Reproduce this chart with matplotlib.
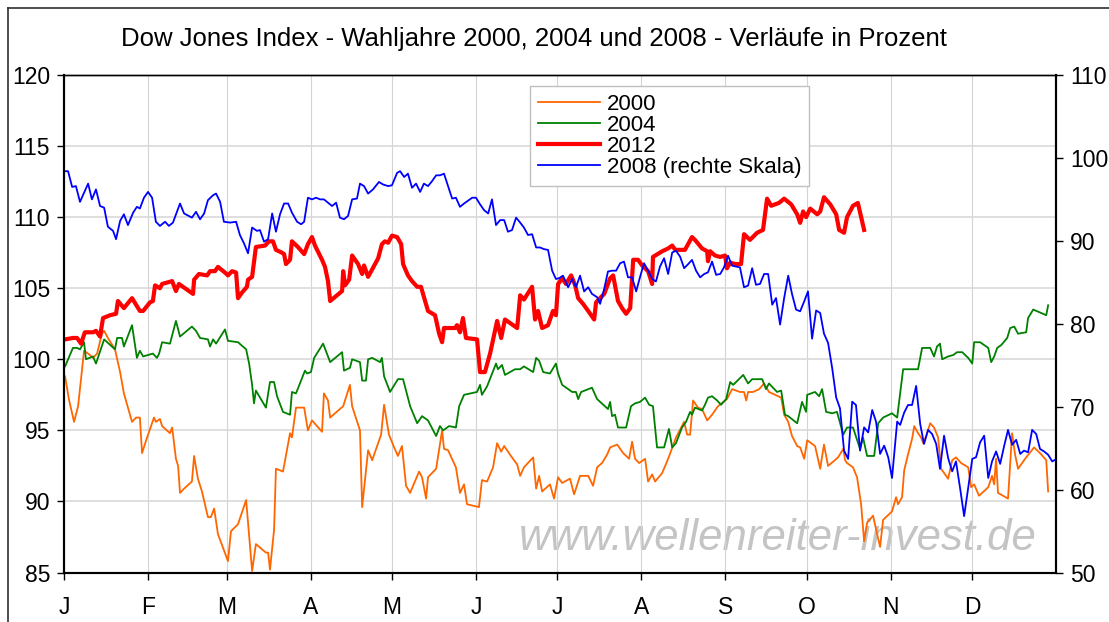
import matplotlib
matplotlib.use("Agg")
import matplotlib.pyplot as plt
from matplotlib.lines import Line2D

plt.rcParams['font.family'] = ['Liberation Sans', 'DejaVu Sans']

title = "Dow Jones Index - Wahljahre 2000, 2004 und 2008 - Verläufe in Prozent"
watermark = "www.wellenreiter-invest.de"

# month starts (day of year) and labels
month_starts = [0, 31, 60, 91, 121, 152, 182, 213, 244, 274, 305, 335]
month_labels = ["J", "F", "M", "A", "M", "J", "J", "A", "S", "O", "N", "D"]

left_ticks = [85, 90, 95, 100, 105, 110, 115, 120]
right_ticks = [50, 60, 70, 80, 90, 100, 110]

# (day of year, index in percent)
dow_2000 = [
    (0.4, 98.8), (1.8, 97.2), (3.7, 95.6), (5.2, 96.7), (7.4, 100.6), (8.9, 100.4), (10.7, 100.1),
    (12.2, 100.4), (14.0, 101.8), (14.8, 102.0), (16.2, 101.5), (18.8, 100.7), (20.7, 99.1),
    (22.1, 97.6), (25.1, 95.6), (26.6, 95.9), (28.0, 95.9), (28.8, 93.4), (30.3, 94.3), (33.2, 95.9),
    (33.9, 95.6), (35.4, 95.8), (36.2, 95.3), (39.1, 94.8), (39.9, 95.2), (41.3, 93.0), (42.1, 92.5),
    (42.8, 90.6), (44.3, 90.9), (47.2, 91.4), (48.0, 93.2), (49.4, 91.6), (50.9, 90.7), (53.1, 88.9),
    (54.2, 88.9), (55.4, 89.5), (56.8, 87.7), (60.5, 85.8), (61.6, 87.9), (64.2, 88.4), (67.2, 90.1),
    (69.4, 85.1), (70.8, 87.0), (74.5, 86.4), (75.3, 86.4), (76.0, 85.2), (77.5, 88.0), (78.2, 92.3),
    (80.8, 92.1), (83.4, 94.8), (84.1, 94.5), (85.6, 96.6), (88.6, 96.6), (90.0, 95.0), (91.5, 95.7),
    (95.2, 94.9), (95.9, 97.6), (97.4, 97.1), (98.2, 95.9), (103.0, 96.7), (105.5, 98.2), (106.3, 96.7),
    (109.2, 95.0), (110.0, 89.6), (112.2, 93.6), (113.7, 92.9), (117.0, 94.7), (118.1, 96.8),
    (119.9, 94.7), (121.8, 93.8), (123.2, 93.2), (124.7, 93.9), (126.2, 91.1), (127.7, 90.6),
    (131.0, 92.1), (132.1, 91.7), (133.6, 90.2), (134.3, 91.7), (137.3, 92.3), (139.5, 95.0),
    (140.2, 93.7), (141.7, 93.6), (144.6, 92.4), (146.1, 90.6), (147.6, 91.2), (148.7, 89.8),
    (153.1, 89.6), (154.2, 91.5), (156.1, 91.4), (158.3, 92.4), (159.8, 94.1), (161.3, 93.5),
    (162.4, 93.9), (164.9, 93.2), (167.2, 92.6), (168.3, 91.8), (169.7, 92.4), (173.1, 93.1),
    (174.2, 90.9), (175.3, 91.8), (176.4, 90.7), (179.3, 91.2), (180.8, 90.2), (182.3, 91.7),
    (183.8, 91.3), (186.7, 91.6), (188.2, 90.5), (190.4, 91.8), (193.4, 91.8), (195.2, 91.1),
    (196.7, 92.4), (198.5, 92.7), (200.4, 93.3), (201.5, 93.8), (204.1, 94.0), (206.3, 93.4),
    (208.5, 93.0), (209.6, 94.2), (210.7, 93.0), (212.2, 92.7), (214.4, 93.0), (215.5, 91.4),
    (217.0, 91.9), (218.1, 91.4), (220.7, 92.0), (222.9, 93.0), (225.8, 94.5), (228.8, 95.6),
    (229.9, 94.7), (231.0, 94.7), (232.1, 97.1), (233.9, 96.6), (235.4, 96.5), (237.3, 95.7),
    (239.1, 96.1), (241.3, 96.7), (244.6, 97.2), (246.5, 97.9), (249.4, 97.7), (250.9, 97.7),
    (251.7, 97.1), (252.4, 97.7), (254.2, 97.7), (256.5, 97.9), (258.3, 98.3), (260.1, 97.7),
    (262.4, 97.5), (264.6, 97.3), (265.7, 96.1), (267.2, 95.6), (268.6, 94.6), (270.5, 93.9),
    (271.6, 93.8), (273.1, 93.0), (274.2, 94.3), (277.1, 93.9), (279.0, 92.3), (280.4, 94.0),
    (281.9, 92.5), (283.8, 92.8), (285.6, 93.1), (287.5, 93.7), (288.2, 92.9), (288.9, 92.7),
    (291.1, 92.4), (292.6, 91.7), (294.1, 89.8), (295.2, 87.2), (296.3, 88.5), (298.5, 89.0),
    (300.0, 87.7), (301.1, 86.8), (302.2, 88.7), (305.5, 89.3), (307.0, 90.3), (307.7, 89.8),
    (309.2, 90.3), (310.0, 92.2), (311.4, 93.3), (312.9, 94.4), (313.7, 95.3), (315.1, 94.8),
    (316.2, 94.5), (317.0, 94.1), (318.1, 94.6), (319.6, 95.5), (321.0, 95.2), (322.5, 94.5),
    (323.6, 92.3), (326.2, 91.6), (327.7, 92.9), (329.1, 93.1), (331.0, 92.7), (333.6, 92.4),
    (334.7, 91.0), (335.8, 91.2), (337.6, 90.4), (341.0, 91.0), (342.4, 91.8), (343.2, 91.2),
    (343.9, 93.0), (344.6, 90.6), (348.3, 90.2), (349.8, 94.8), (350.9, 93.3), (352.0, 92.3),
    (354.6, 93.0), (357.9, 93.8), (360.1, 93.4), (362.4, 92.9), (363.1, 90.7),
]

dow_2004 = [
    (0.4, 99.5), (3.3, 100.8), (4.8, 100.8), (5.9, 100.7), (7.4, 101.2), (8.1, 100.0), (10.7, 100.2),
    (11.8, 99.7), (14.8, 101.4), (18.8, 100.7), (19.6, 101.5), (21.4, 101.5), (22.1, 100.9),
    (25.1, 102.4), (26.9, 100.1), (28.0, 100.6), (29.2, 100.2), (32.8, 100.4), (34.3, 100.1),
    (35.1, 100.4), (36.2, 101.2), (39.1, 101.1), (41.3, 102.7), (42.8, 101.6), (47.2, 102.3),
    (48.7, 102.0), (50.2, 101.5), (53.1, 101.4), (53.9, 100.9), (55.0, 101.4), (56.1, 101.1),
    (59.4, 102.1), (60.5, 101.3), (64.2, 101.2), (67.2, 100.7), (68.3, 99.7), (69.4, 98.2),
    (70.1, 96.9), (70.8, 97.8), (74.5, 96.6), (76.0, 98.4), (77.5, 98.4), (78.6, 97.4), (80.8, 96.3),
    (83.4, 96.1), (84.1, 97.7), (85.6, 97.6), (88.9, 99.2), (89.7, 99.0), (91.1, 99.1), (92.3, 100.1),
    (95.6, 101.1), (98.2, 99.8), (102.6, 100.5), (103.3, 99.2), (105.5, 99.4), (106.3, 100.0),
    (109.2, 99.8), (110.0, 98.5), (111.4, 98.5), (112.2, 100.0), (113.7, 100.1), (116.6, 99.8),
    (117.3, 100.1), (118.1, 98.8), (120.3, 97.7), (123.2, 98.6), (125.1, 98.6), (127.7, 96.7),
    (130.3, 95.5), (132.1, 96.0), (134.3, 95.7), (137.3, 94.6), (138.7, 95.3), (139.9, 95.0),
    (142.1, 95.3), (144.6, 95.2), (145.8, 96.7), (147.6, 97.5), (152.4, 97.7), (153.5, 98.2),
    (154.2, 97.5), (156.1, 98.1), (159.4, 99.7), (160.1, 99.3), (161.6, 99.6), (162.7, 98.9),
    (166.4, 99.3), (168.3, 99.3), (169.7, 99.5), (173.1, 99.1), (174.2, 100.1), (175.3, 99.9),
    (176.8, 99.1), (179.3, 99.0), (181.5, 99.7), (182.3, 99.0), (183.8, 98.2), (187.5, 97.7),
    (188.9, 97.7), (189.7, 97.2), (190.8, 97.7), (194.8, 98.0), (196.7, 97.2), (200.7, 96.5),
    (201.5, 97.0), (202.2, 96.0), (203.3, 96.1), (204.4, 95.2), (207.4, 95.2), (209.2, 96.7),
    (210.7, 96.9), (212.5, 97.0), (214.4, 97.3), (215.9, 96.8), (217.3, 96.7), (218.8, 93.8),
    (221.4, 93.8), (223.2, 95.1), (224.4, 93.8), (225.8, 94.1), (228.0, 95.2), (229.5, 95.6),
    (231.0, 96.3), (231.7, 96.1), (232.8, 96.6), (235.4, 96.4), (236.5, 96.8), (237.6, 97.3),
    (239.1, 97.4), (241.0, 97.1), (242.4, 96.8), (244.3, 97.2), (245.8, 98.4), (246.9, 98.2),
    (250.6, 98.9), (252.4, 98.3), (253.9, 98.6), (257.6, 98.6), (259.0, 97.9), (260.1, 98.3),
    (263.1, 97.7), (264.6, 97.8), (266.0, 96.1), (267.2, 96.0), (270.5, 95.5), (272.3, 97.0),
    (273.8, 96.3), (274.2, 97.5), (277.1, 97.7), (278.6, 97.4), (279.7, 97.9), (281.2, 96.3),
    (283.4, 96.2), (285.2, 96.3), (287.5, 94.7), (288.9, 95.2), (291.1, 95.2), (293.7, 93.7),
    (294.8, 94.5), (296.3, 93.2), (298.9, 93.2), (300.4, 95.5), (302.2, 95.9), (305.5, 96.2),
    (307.4, 95.9), (309.6, 99.3), (315.1, 99.3), (316.6, 100.8), (319.6, 100.8), (321.0, 100.2),
    (322.1, 100.9), (323.2, 101.1), (324.0, 100.0), (326.2, 100.2), (328.1, 100.3), (329.5, 100.5),
    (331.4, 100.5), (333.6, 100.1), (335.1, 99.7), (335.8, 101.2), (338.0, 101.2), (341.0, 100.8),
    (342.1, 99.8), (343.2, 100.2), (344.3, 100.8), (345.8, 101.0), (348.0, 101.5), (349.1, 102.2),
    (350.6, 102.3), (352.0, 101.8), (355.0, 101.9), (355.7, 102.9), (357.6, 103.5), (362.4, 103.1),
    (363.1, 103.8),
]

dow_2012 = [
    (0.4, 101.4), (3.3, 101.5), (4.8, 101.5), (6.3, 101.1), (7.7, 101.9), (9.6, 101.9), (10.7, 101.9),
    (11.8, 102.0), (13.3, 101.6), (14.4, 102.9), (17.0, 103.1), (19.2, 103.2), (19.9, 104.1),
    (22.1, 103.6), (25.1, 104.3), (28.0, 103.4), (29.2, 103.4), (31.7, 104.0), (32.8, 104.1),
    (33.6, 105.2), (35.4, 105.0), (36.2, 105.3), (39.9, 105.5), (41.3, 104.8), (42.4, 105.3),
    (44.6, 105.0), (47.6, 104.6), (48.0, 105.6), (49.8, 106.0), (52.8, 105.9), (53.9, 106.2),
    (55.7, 106.2), (56.8, 106.5), (59.4, 106.1), (60.5, 105.9), (62.0, 106.2), (63.5, 106.1),
    (64.2, 104.3), (65.7, 104.7), (67.5, 105.1), (67.9, 105.6), (69.4, 105.8), (70.8, 107.9),
    (74.2, 108.0), (75.6, 108.3), (77.1, 108.3), (78.2, 107.7), (80.4, 107.5), (81.2, 107.4),
    (81.9, 106.7), (83.4, 107.0), (84.1, 108.3), (86.3, 107.9), (88.6, 107.4), (90.0, 108.1),
    (91.5, 108.6), (92.6, 108.0), (95.2, 107.0), (96.3, 106.5), (97.4, 105.5), (98.2, 104.1),
    (102.6, 104.8), (103.0, 106.2), (103.7, 105.2), (105.2, 105.6), (106.3, 107.3), (108.5, 106.7),
    (110.0, 106.0), (110.7, 106.6), (112.2, 105.8), (115.9, 107.1), (117.3, 108.1), (118.4, 108.3),
    (119.6, 108.2), (121.0, 108.7), (122.9, 108.6), (124.4, 108.1), (125.1, 106.7), (126.9, 105.9),
    (128.4, 105.5), (130.3, 105.1), (131.7, 105.1), (134.3, 103.4), (136.9, 103.1), (138.4, 101.8),
    (139.5, 101.2), (140.2, 102.2), (144.3, 102.2), (145.0, 102.4), (146.1, 101.9), (147.2, 102.9),
    (148.3, 101.5), (152.4, 101.4), (153.5, 99.1), (155.3, 99.1), (157.2, 100.4), (159.8, 102.7),
    (161.3, 101.5), (162.7, 102.8), (167.2, 102.2), (168.3, 104.5), (169.7, 104.2), (172.7, 105.1),
    (173.8, 102.8), (174.9, 103.4), (176.4, 102.2), (178.6, 102.4), (180.4, 103.4), (181.5, 103.1),
    (182.3, 105.3), (183.8, 105.7), (185.2, 105.3), (187.1, 105.9), (188.6, 105.2), (189.7, 104.3),
    (191.5, 103.9), (193.4, 103.4), (195.6, 102.8), (196.3, 104.0), (199.3, 104.6), (201.5, 105.7),
    (202.6, 105.9), (204.4, 104.1), (205.9, 103.6), (207.4, 103.2), (208.9, 103.6), (210.0, 107.0),
    (211.8, 107.0), (213.3, 106.6), (215.5, 106.2), (217.0, 105.3), (217.3, 107.2), (220.7, 107.6),
    (222.9, 107.8), (224.4, 108.0), (225.5, 107.7), (229.1, 107.7), (231.7, 108.6), (232.8, 108.4),
    (235.4, 107.8), (237.3, 107.6), (237.6, 106.9), (238.4, 107.6), (240.2, 107.3), (242.1, 107.2),
    (243.9, 107.3), (244.6, 106.4), (245.8, 106.8), (247.6, 106.7), (249.8, 106.7), (250.9, 108.8),
    (253.1, 108.4), (255.7, 108.9), (257.9, 109.1), (259.4, 111.3), (260.9, 110.8), (263.8, 111.0),
    (265.7, 111.3), (268.3, 110.9), (270.5, 110.2), (271.6, 109.6), (272.7, 110.4), (273.8, 110.0),
    (275.3, 110.6), (277.9, 110.2), (279.0, 110.4), (280.4, 111.4), (282.7, 110.9), (284.9, 110.2),
    (286.0, 109.1), (287.8, 108.9), (288.9, 110.0), (291.1, 110.8), (292.9, 111.0), (295.2, 109.1),
]

# 2008 is read against the right axis
dow_2008 = [
    (0.4, 98.4), (1.5, 98.4), (3.0, 96.5), (4.4, 96.6), (5.9, 94.7), (8.9, 96.9), (10.3, 95.0),
    (11.8, 96.2), (13.3, 94.2), (14.8, 94.0), (16.2, 91.7), (18.1, 91.2), (19.2, 90.2), (20.7, 92.4),
    (22.1, 93.2), (23.6, 91.9), (25.5, 93.4), (26.9, 94.1), (28.0, 93.9), (29.5, 95.2), (31.0, 95.9),
    (32.5, 95.2), (33.9, 92.3), (35.4, 91.8), (37.3, 92.3), (38.7, 91.8), (40.2, 92.2), (42.8, 94.5),
    (44.3, 93.3), (47.2, 92.8), (48.7, 93.5), (50.2, 92.6), (51.7, 93.3), (53.1, 94.9), (55.0, 95.5),
    (56.1, 95.7), (57.6, 94.7), (59.0, 92.3), (61.3, 92.2), (63.5, 92.3), (64.9, 90.7), (66.4, 89.7),
    (67.9, 88.5), (69.4, 91.6), (71.2, 91.2), (72.3, 91.3), (73.8, 89.9), (75.3, 90.2), (76.8, 93.3),
    (78.2, 91.1), (79.7, 93.2), (81.2, 94.5), (82.7, 94.5), (84.1, 93.4), (86.0, 92.3), (87.5, 92.0),
    (88.6, 92.3), (90.0, 95.2), (91.5, 95.0), (93.0, 95.2), (94.5, 95.0), (95.9, 95.0), (97.4, 94.6),
    (98.9, 94.2), (100.4, 94.6), (101.8, 92.8), (103.3, 92.6), (104.8, 93.0), (106.3, 95.0),
    (108.1, 95.1), (109.2, 96.9), (110.7, 96.6), (112.2, 95.7), (114.0, 96.2), (116.2, 97.1),
    (117.7, 96.8), (119.6, 96.6), (121.0, 96.7), (122.9, 98.2), (124.0, 98.4), (125.5, 97.7),
    (126.9, 98.1), (128.4, 96.4), (129.9, 96.9), (131.4, 95.9), (132.8, 96.9), (134.3, 96.6),
    (135.8, 97.2), (137.3, 97.9), (138.7, 97.9), (140.2, 98.1), (141.7, 96.6), (143.2, 95.1),
    (144.6, 95.2), (146.1, 94.1), (147.6, 94.5), (150.6, 95.2), (152.0, 95.2), (153.5, 94.4),
    (155.0, 93.7), (156.5, 93.3), (157.9, 95.0), (159.4, 91.9), (160.9, 92.5), (162.4, 92.5),
    (163.8, 91.1), (165.3, 91.3), (166.8, 92.8), (168.3, 92.2), (169.7, 91.6), (171.2, 90.7),
    (172.7, 90.8), (174.2, 89.2), (175.6, 89.2), (177.1, 89.0), (178.6, 88.9), (180.1, 86.4),
    (181.5, 85.4), (182.7, 85.5), (184.1, 85.8), (186.0, 84.4), (187.5, 85.4), (188.9, 84.4),
    (190.4, 85.8), (191.9, 83.9), (193.4, 84.4), (194.8, 83.6), (196.7, 83.2), (197.8, 82.4),
    (199.3, 84.2), (200.7, 86.3), (202.2, 86.4), (203.7, 86.4), (205.2, 87.3), (206.6, 87.5),
    (208.1, 85.6), (209.6, 85.6), (211.1, 83.9), (212.5, 85.6), (214.0, 87.3), (215.5, 86.4),
    (217.0, 85.4), (218.4, 85.1), (219.9, 86.9), (221.4, 87.9), (222.9, 86.0), (224.4, 88.6),
    (225.8, 88.8), (227.3, 88.1), (228.8, 86.7), (230.3, 87.2), (231.7, 87.7), (233.2, 86.4),
    (234.7, 85.6), (236.2, 86.0), (237.6, 86.2), (239.1, 87.5), (240.6, 85.9), (242.1, 86.0),
    (243.5, 86.8), (245.0, 88.2), (246.5, 87.0), (248.0, 86.9), (249.4, 86.8), (250.9, 84.4),
    (252.4, 84.6), (253.9, 86.7), (255.3, 84.7), (256.8, 84.8), (258.3, 86.0), (259.8, 86.0),
    (261.3, 82.3), (262.7, 83.1), (264.2, 79.9), (265.7, 83.1), (267.2, 85.8), (268.6, 83.6),
    (270.1, 81.7), (271.6, 81.5), (273.1, 82.7), (274.5, 83.9), (276.0, 78.2), (277.5, 81.6),
    (279.0, 81.3), (280.4, 78.8), (281.9, 77.7), (283.4, 74.7), (284.9, 71.1), (286.3, 69.8),
    (287.8, 64.7), (289.3, 63.7), (290.8, 70.6), (292.2, 70.2), (293.7, 64.7), (295.2, 67.5),
    (296.7, 66.9), (298.2, 69.6), (299.6, 68.2), (301.1, 64.3), (302.6, 65.3), (304.1, 63.9),
    (305.5, 61.4), (307.4, 68.2), (308.5, 67.8), (310.0, 69.3), (311.4, 70.2), (312.9, 70.2),
    (314.4, 72.5), (315.9, 67.9), (317.3, 65.5), (318.8, 67.2), (320.3, 66.7), (321.8, 65.5),
    (323.2, 62.5), (324.7, 66.5), (326.2, 63.8), (327.7, 62.2), (329.1, 63.4), (330.6, 60.2),
    (332.1, 56.8), (333.6, 60.2), (335.1, 63.7), (336.5, 63.9), (338.0, 65.7), (339.5, 66.5),
    (341.0, 61.4), (342.4, 63.4), (343.9, 64.6), (345.4, 63.1), (346.9, 65.3), (348.3, 67.2),
    (349.8, 65.4), (351.3, 66.0), (352.8, 64.3), (354.2, 64.7), (355.7, 64.5), (357.2, 67.2),
    (358.7, 66.7), (360.1, 64.9), (361.6, 64.6), (363.1, 64.2), (364.6, 63.4), (365.7, 63.6),
]


def unzip(pairs):
    return [p[0] for p in pairs], [p[1] for p in pairs]


fig = plt.figure(figsize=(11.09, 6.22), dpi=100)
ax = fig.add_axes([64 / 1109, 1 - 572.5 / 622, 992 / 1109, 497.5 / 622])
ax2 = ax.twinx()

# watermark below the lines
ax.text(0.72, 0.068, watermark, transform=ax.transAxes, ha="center", va="center",
        fontsize=31.5, style="italic", color="#c4c4c4", zorder=0.5)

x, y = unzip(dow_2000)
l2000, = ax.plot(x, y, color="#ff6600", lw=1.3, label="2000", zorder=3)
x, y = unzip(dow_2004)
l2004, = ax.plot(x, y, color="#008000", lw=1.3, label="2004", zorder=3)
x, y = unzip(dow_2012)
l2012, = ax.plot(x, y, color="#ff0000", lw=3.0, label="2012", zorder=4)
x, y = unzip(dow_2008)
l2008, = ax2.plot(x, y, color="#0000ff", lw=1.3, label="2008 (rechte Skala)")

ax.set_xlim(0, 366)
ax.set_ylim(85, 120)
ax2.set_ylim(50, 110)

ax.set_yticks(left_ticks)
ax2.set_yticks(right_ticks)
ax.set_xticks(month_starts)
ax.set_xticklabels(month_labels)

ax.grid(axis="y", color="#d9d9d9", lw=1.2, zorder=1)
ax.grid(axis="x", color="#d4d4d4", lw=0.8, zorder=1)
ax.set_axisbelow(True)

for a in (ax, ax2):
    for s in a.spines.values():
        s.set_color("black")
    a.spines["top"].set_linewidth(1.0)
    a.spines["left"].set_linewidth(1.5)
    a.spines["bottom"].set_linewidth(1.5)
    a.spines["right"].set_linewidth(1.5)

ax.tick_params(axis="y", direction="out", length=5, width=1, labelsize=16.5, pad=5)
ax.tick_params(axis="x", direction="out", length=5, width=1, labelsize=16.5, pad=12)
ax2.tick_params(axis="y", direction="out", length=5, width=1, labelsize=16.5, pad=5)

fig.text(534 / 1109, 1 - 39 / 622, title, ha="center", va="center", fontsize=18.5)

handles = [l2000, l2004, l2012, l2008]
leg = ax2.legend(handles, [h.get_label() for h in handles], loc="upper left",
                 bbox_to_anchor=(0.47, 0.977), fontsize=16, frameon=True, fancybox=False,
                 edgecolor="#c0c0c0", framealpha=1, borderpad=0.35, labelspacing=0.0,
                 handlelength=2.8, handletextpad=0.3, borderaxespad=0)
leg.get_frame().set_linewidth(1.0)

# outer chart border (left and top visible in the crop)
fig.add_artist(Line2D([8 / 1109, 8 / 1109], [0, 1 - 8 / 622], transform=fig.transFigure,
                      color="#303030", lw=1.2))
fig.add_artist(Line2D([8 / 1109, 1], [1 - 8 / 622, 1 - 8 / 622], transform=fig.transFigure,
                      color="#303030", lw=1.2))

fig.savefig("out.png", dpi=100)
